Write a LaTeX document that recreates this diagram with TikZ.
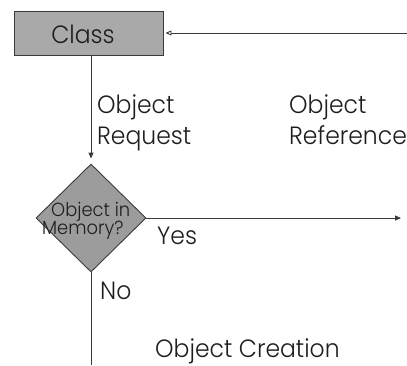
\documentclass[tikz,border=0pt]{standalone}
\usepackage{fontspec}
\IfFontExistsTF{Poppins Light}
  {\setmainfont{Poppins Light}[FakeStretch=0.94]}
  {\setmainfont{Poppins}[FakeStretch=0.94]}
\usetikzlibrary{arrows.meta,shapes.geometric}
\definecolor{boxgray}{HTML}{A9A9A9}
\definecolor{diagray}{HTML}{9C9C9C}
\definecolor{linegray}{HTML}{3A3A3A}
\definecolor{inkgray}{HTML}{1E1E1E}
\begin{document}
\begin{tikzpicture}[x=1pt,y=-1pt,
  lbl/.style={anchor=base west, inner sep=0pt, text=inkgray,
    font=\fontsize{25}{30}\selectfont},
  small/.style={anchor=base west, inner sep=0pt, text=inkgray,
    font=\fontsize{19}{22}\selectfont},
  conn/.style={draw=linegray, line width=0.9pt},
  openhead/.style={-{Triangle[open,length=6pt,width=5pt]}},
  fullhead/.style={-{Triangle[length=6pt,width=5pt]}},
]
\useasboundingbox (0,0) rectangle (407,365);

% class box
\node[draw=linegray, fill=boxgray, line width=0.9pt, inner sep=0pt,
      minimum width=149pt, minimum height=44pt] (class) at (88.5,33) {};
\node[lbl, anchor=base] (classtxt) at (83,43) {Class};

% decision
\node[diamond, draw=linegray, fill=diagray, line width=0.9pt, inner sep=0pt,
      minimum width=110pt, minimum height=108pt] (dec) at (91,218) {};
\node[small] (dec1) at (51,216) {Object in};
\node[small] (dec2) at (42,234) {Memory?};

% connectors
\coordinate (refin) at (407,33);
\coordinate (yesend) at (401,218);
\coordinate (noend) at (91,365);
\draw[conn, openhead, shorten >=2pt] (refin) -- (class.east);
\draw[conn, fullhead, shorten >=5pt] (class.south -| dec.north) -- (dec.north);
\draw[conn, fullhead] (dec.east) -- (yesend);
\draw[conn] (dec.south) -- (noend);

% labels
\node[lbl] (req1) at (97,113) {Object};
\node[lbl] (req2) at (97,144) {Request};
\node[lbl] (ref1) at (289,113) {Object};
\node[lbl] (ref2) at (289,144) {Reference};
\node[lbl] (yes) at (157,244) {Yes};
\node[lbl] (no) at (100,299) {No};
\node[lbl] (create) at (155,357) {Object Creation};
\end{tikzpicture}
\end{document}
